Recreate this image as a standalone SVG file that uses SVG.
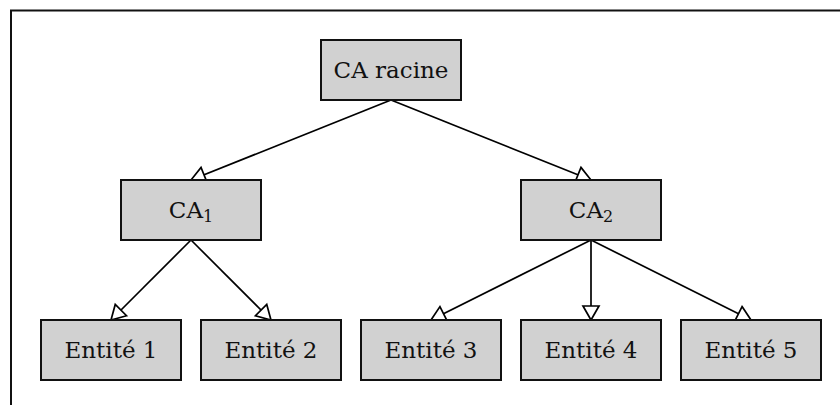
<svg xmlns="http://www.w3.org/2000/svg" width="840" height="405" viewBox="0 0 840 405">
<defs>
<style>
.box{fill:#d1d1d1;stroke:#111;stroke-width:2}
.lbl{font-family:"DejaVu Serif","Liberation Serif",serif;font-size:23px;fill:#111;text-anchor:middle}
.sub{font-size:16px}
.edge{stroke:#000;stroke-width:1.7;fill:none;marker-end:url(#arr)}
</style>
<marker id="arr" markerUnits="userSpaceOnUse" markerWidth="20" markerHeight="20" viewBox="-2 -2 20 20" refX="14" refY="8" orient="auto">
<path d="M0,0 L14,8 L0,16 Z" fill="#fff" stroke="#000" stroke-width="1.7" stroke-linejoin="miter"/>
</marker>
</defs>
<rect width="840" height="405" fill="#fff"/>
<path d="M11,405 V10.5 H840" fill="none" stroke="#111" stroke-width="2"/>
<g id="connectors">
<line class="edge" x1="391" y1="100" x2="191" y2="180"/>
<line class="edge" x1="391" y1="100" x2="591" y2="180"/>
<line class="edge" x1="191" y1="240" x2="111" y2="320"/>
<line class="edge" x1="191" y1="240" x2="271" y2="320"/>
<line class="edge" x1="591" y1="240" x2="431" y2="320"/>
<line class="edge" x1="591" y1="240" x2="591" y2="320"/>
<line class="edge" x1="591" y1="240" x2="751" y2="320"/>
</g>
<g id="ca-racine"><rect class="box" x="321" y="40" width="140" height="60"/><text class="lbl" x="391" y="78">CA racine</text></g>
<g id="ca1"><rect class="box" x="121" y="180" width="140" height="60"/><text class="lbl" x="191" y="218">CA<tspan class="sub" dy="4">1</tspan></text></g>
<g id="ca2"><rect class="box" x="521" y="180" width="140" height="60"/><text class="lbl" x="591" y="218">CA<tspan class="sub" dy="4">2</tspan></text></g>
<g id="entite1"><rect class="box" x="41" y="320" width="140" height="60"/><text class="lbl" x="111" y="358">Entité 1</text></g>
<g id="entite2"><rect class="box" x="201" y="320" width="140" height="60"/><text class="lbl" x="271" y="358">Entité 2</text></g>
<g id="entite3"><rect class="box" x="361" y="320" width="140" height="60"/><text class="lbl" x="431" y="358">Entité 3</text></g>
<g id="entite4"><rect class="box" x="521" y="320" width="140" height="60"/><text class="lbl" x="591" y="358">Entité 4</text></g>
<g id="entite5"><rect class="box" x="681" y="320" width="140" height="60"/><text class="lbl" x="751" y="358">Entité 5</text></g>
</svg>
